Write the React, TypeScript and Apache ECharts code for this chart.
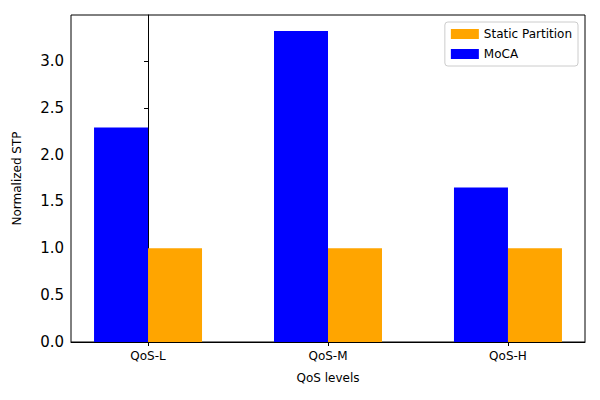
import { useEffect, useRef } from "react";
import * as echarts from "echarts";

const categories = ["QoS-L", "QoS-M", "QoS-H"];
const mocaValues = [2.29, 3.32, 1.65];
const staticValues = [1.0, 1.0, 1.0];
const yTicks = [0, 0.5, 1, 1.5, 2, 2.5, 3];

const FONT = "DejaVu Sans";

export default function App() {
  const ref = useRef<HTMLDivElement>(null);

  useEffect(() => {
    if (!ref.current) return;
    const chart = echarts.init(ref.current, null, { renderer: "svg" });
    chart.setOption({
      animation: false,
      textStyle: { fontFamily: FONT },
      grid: {
        left: 71, right: 15, top: 15, bottom: 58,
        show: true, borderColor: "#000", borderWidth: 1,
      },
      legend: {
        data: ["Static Partition", "MoCA"],
        orient: "vertical",
        right: 22, top: 22,
        itemWidth: 28, itemHeight: 10, itemGap: 8,
        padding: [6, 6, 6, 6],
        borderColor: "#ccc", borderWidth: 1, borderRadius: 3,
        backgroundColor: "#fff",
        textStyle: { fontSize: 12, color: "#000", fontFamily: FONT },
        icon: "rect",
      },
      xAxis: {
        type: "value",
        min: -0.428, max: 2.428,
        name: "QoS levels", nameLocation: "middle", nameGap: 30,
        nameTextStyle: { fontSize: 12, color: "#000" },
        splitLine: { show: false },
        axisLine: { show: true, lineStyle: { color: "#000" } },
        axisTick: { show: true, customValues: [0, 1, 2], length: 4, lineStyle: { color: "#000" } },
        axisLabel: {
          customValues: [0, 1, 2], color: "#000", fontSize: 12, margin: 8,
          formatter: (v: number) => categories[Math.round(v)] ?? "",
        },
      },
      yAxis: {
        type: "value",
        min: 0, max: 3.49,
        name: "Normalized STP", nameLocation: "middle", nameGap: 48,
        nameTextStyle: { fontSize: 12, color: "#000" },
        splitLine: { show: false },
        axisLine: { show: true, lineStyle: { color: "#000" } },
        axisTick: { show: true, customValues: yTicks, length: 4, lineStyle: { color: "#000" } },
        axisLabel: {
          customValues: yTicks, color: "#000", fontSize: 15, margin: 7,
          formatter: (v: number) => v.toFixed(1),
        },
      },
      series: [
        {
          name: "MoCA", type: "bar", barWidth: 54, barGap: "-100%",
          itemStyle: { color: "#0000ff" },
          data: mocaValues.map((v, i) => [i - 0.15, v]),
        },
        {
          name: "Static Partition", type: "bar", barWidth: 54, barGap: "-100%",
          itemStyle: { color: "#ffa500" },
          data: staticValues.map((v, i) => [i + 0.15, v]),
        },
      ],
    });
    return () => chart.dispose();
  }, []);

  return <div ref={ref} style={{ width: 600, height: 400, margin: -8 }} />;
}
